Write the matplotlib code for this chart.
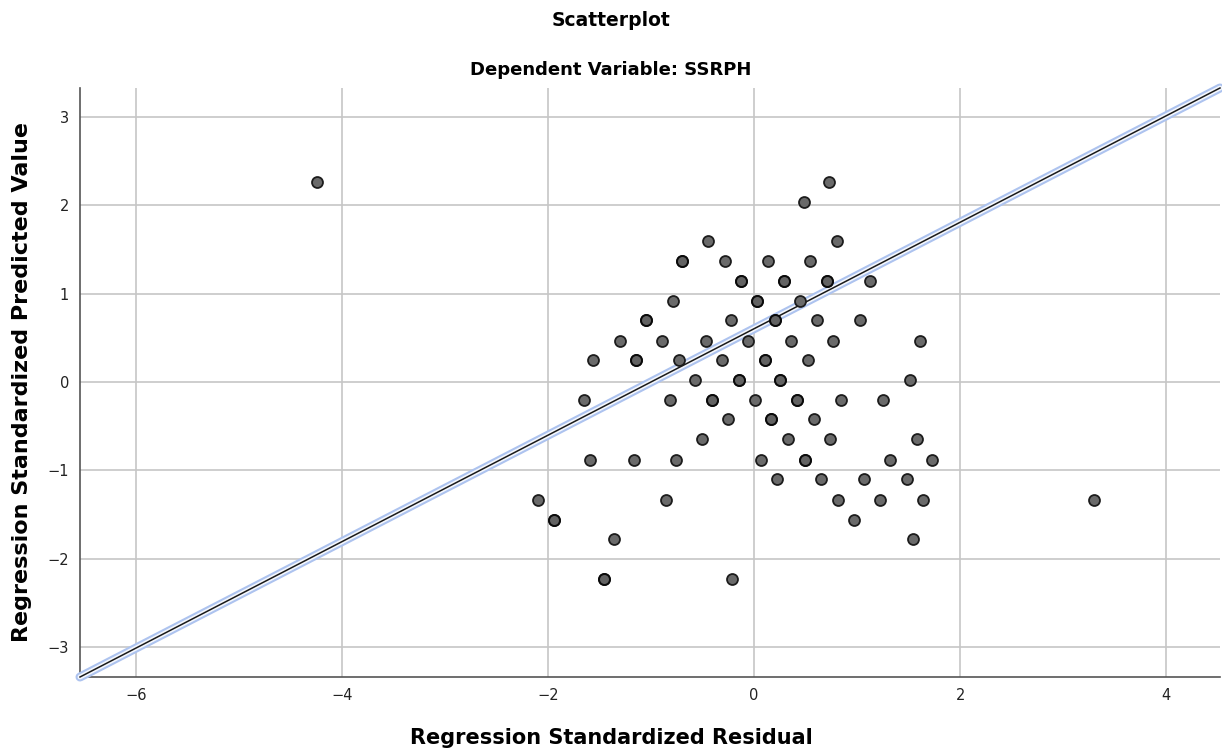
import matplotlib.pyplot as plt

# residual (x) and predicted value (y) pairs
resid = [-4.24, 0.73,
         0.48,
         -0.45, 0.80,
         -0.70, -0.28, 0.13, 0.54,
         -0.13, 0.29, 0.71, 1.12,
         -0.79, 0.03, 0.45,
         -1.05, -0.22, 0.20, 0.61, 1.03,
         -1.30, -0.89, -0.47, -0.06, 0.36, 0.77, 1.61,
         -1.56, -1.15, -0.73, -0.31, 0.11, 0.52,
         -0.57, -0.15, 0.25, 1.51,
         -1.65, -0.82, -0.41, 0.01, 0.42, 0.84, 1.25,
         -0.25, 0.16, 0.58,
         -0.51, 0.33, 0.74, 1.58,
         -1.59, -1.17, -0.76, 0.07, 0.49, 1.32, 1.73,
         0.22, 0.65, 1.07, 1.48,
         -2.10, -0.85, 0.81, 1.22, 1.64, 3.30,
         -1.94, 0.97,
         -1.36, 1.54,
         -1.46, -0.21]
pred = [2.27, 2.27,
        2.04,
        1.60, 1.60,
        1.37, 1.37, 1.37, 1.37,
        1.15, 1.15, 1.15, 1.15,
        0.92, 0.92, 0.92,
        0.70, 0.70, 0.70, 0.70, 0.70,
        0.47, 0.47, 0.47, 0.47, 0.47, 0.47, 0.47,
        0.25, 0.25, 0.25, 0.25, 0.25, 0.25,
        0.02, 0.02, 0.02, 0.02,
        -0.20, -0.20, -0.20, -0.20, -0.20, -0.20, -0.20,
        -0.42, -0.42, -0.42,
        -0.65, -0.65, -0.65, -0.65,
        -0.88, -0.88, -0.88, -0.88, -0.88, -0.88, -0.88,
        -1.10, -1.10, -1.10, -1.10,
        -1.33, -1.33, -1.33, -1.33, -1.33, -1.33,
        -1.56, -1.56,
        -1.78, -1.78,
        -2.23, -2.23]

# cases that sit on top of each other (a bit darker in the original)
dup_resid = [-0.70, -0.13, 0.29, 0.71, 0.03, -1.05, 0.20, -1.15, 0.11,
             -0.15, 0.25, -0.41, 0.42, 0.16, 0.49, -1.94, -1.46]
dup_pred = [1.37, 1.15, 1.15, 1.15, 0.92, 0.70, 0.70, 0.25, 0.25,
            0.02, 0.02, -0.20, -0.20, -0.42, -0.88, -1.56, -2.23]

# reference line, corner to corner
line_x = [-6.54, 4.52]
line_y = [-3.34, 3.33]

xticks = [-6, -4, -2, 0, 2, 4]
yticks = [-3, -2, -1, 0, 1, 2, 3]

fig = plt.figure(figsize=(12.22, 7.55), dpi=100)
ax = fig.add_axes([80 / 1222, 1 - 677 / 755, 1140 / 1222, 589 / 755])

ax.set_xlim(-6.54, 4.52)
ax.set_ylim(-3.34, 3.33)
ax.set_xticks(xticks)
ax.set_yticks(yticks)
ax.set_xticklabels(['\u2212' + str(-t) if t < 0 else str(t) for t in xticks])
ax.set_yticklabels(['\u2212' + str(-t) if t < 0 else str(t) for t in yticks])
ax.grid(True, color='#c6c6c6', lw=1.2)
ax.set_axisbelow(True)
ax.tick_params(length=0, labelsize=10.5, pad=8, colors='#222222')
for s in ['top', 'right']:
    ax.spines[s].set_visible(False)
for s in ['left', 'bottom']:
    ax.spines[s].set_color('#555555')
    ax.spines[s].set_linewidth(1.2)

ax.plot(line_x, line_y, color='#adc3ef', lw=6.5, solid_capstyle='round', clip_on=False, zorder=3)
ax.plot(line_x, line_y, color='#f4f7fd', lw=3.5, solid_capstyle='round', clip_on=False, zorder=3)
ax.plot(line_x, line_y, color='#1a1a1a', lw=1.1, clip_on=False, zorder=4)

ax.scatter(resid, pred, s=62, facecolor='#6a6a6a', edgecolor='#1c1c1c', lw=1.3, zorder=5)
ax.scatter(dup_resid, dup_pred, s=62, facecolor='#626262', edgecolor='#0a0a0a', lw=1.4, zorder=6)

fig.text(0.5, 1 - 20 / 755, 'Scatterplot', ha='center', va='center', fontsize=13.5, fontweight='bold')
fig.text(0.5, 1 - 70 / 755, 'Dependent Variable: SSRPH', ha='center', va='center', fontsize=13, fontweight='bold')
fig.text(0.5, 1 - 738 / 755, 'Regression Standardized Residual', ha='center', va='center', fontsize=15, fontweight='bold')
fig.text(22 / 1222, 1 - 382 / 755, 'Regression Standardized Predicted Value', ha='center', va='center',
         rotation=90, fontsize=16, fontweight='bold')

fig.savefig('out.png', dpi=100)
